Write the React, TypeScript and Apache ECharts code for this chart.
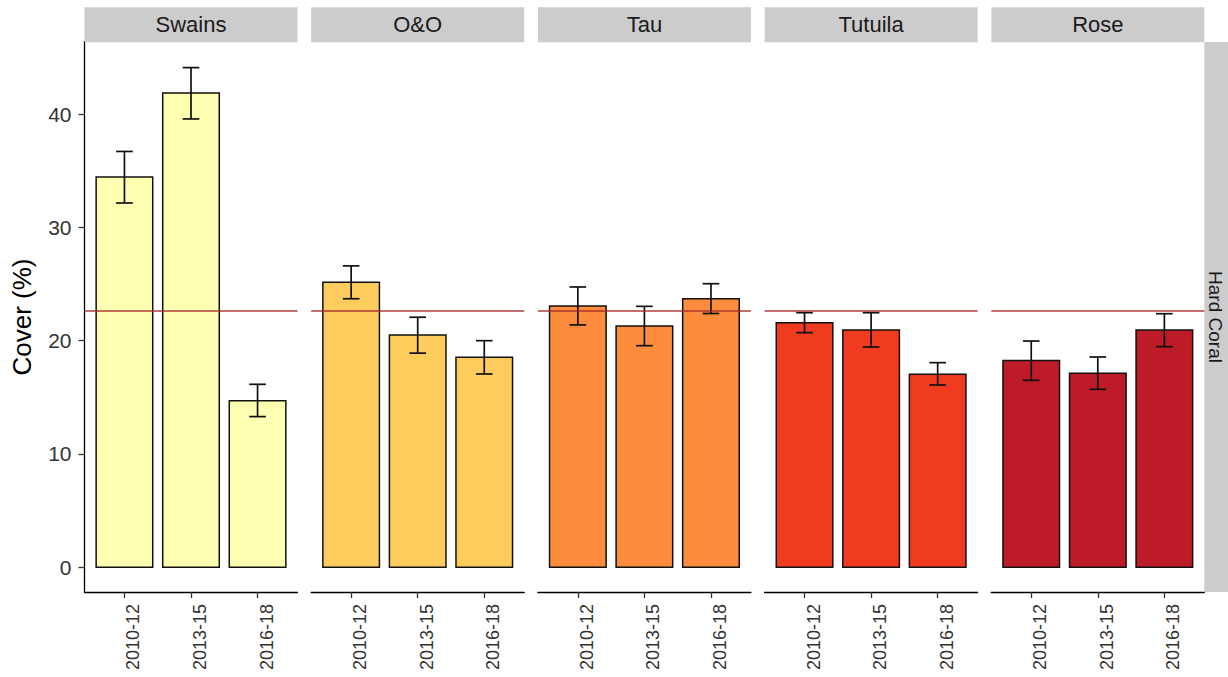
import React, { useEffect, useRef } from "react";
import * as echarts from "echarts";

// ---------- data ----------
const sites = ["Swains", "O&O", "Tau", "Tutuila", "Rose"];
const periods = ["2010-12", "2013-15", "2016-18"];
const siteColors = ["#FFFFB2", "#FECC5C", "#FD8D3C", "#F03B20", "#BD1B27"];

const swainsMean = [34.45, 41.85, 14.7];
const swainsLow = [32.15, 39.57, 13.3];
const swainsHigh = [36.7, 44.1, 16.15];

const oandoMean = [25.15, 20.5, 18.53];
const oandoLow = [23.7, 18.9, 17.06];
const oandoHigh = [26.6, 22.07, 20.0];

const tauMean = [23.06, 21.3, 23.7];
const tauLow = [21.39, 19.56, 22.4];
const tauHigh = [24.74, 23.03, 25.03];

const tutuilaMean = [21.59, 20.94, 17.03];
const tutuilaLow = [20.71, 19.44, 16.09];
const tutuilaHigh = [22.47, 22.47, 18.06];

const roseMean = [18.24, 17.12, 20.94];
const roseLow = [16.5, 15.71, 19.47];
const roseHigh = [19.97, 18.56, 22.38];

const overallMean = 22.62;
const yTicks = [0, 10, 20, 30, 40];
const rowLabel = "Hard Coral";
const yTitle = "Cover (%)";

const means = [swainsMean, oandoMean, tauMean, tutuilaMean, roseMean];
const lows = [swainsLow, oandoLow, tauLow, tutuilaLow, roseLow];
const highs = [swainsHigh, oandoHigh, tauHigh, tutuilaHigh, roseHigh];

// ---------- layout ----------
const FONT = "'Liberation Sans', Arial, Helvetica, sans-serif";
const PANEL_LEFT0 = 84.5;
const PANEL_STEP = 226.7;
const PANEL_W = 213;
const PANEL_TOP = 42;
const PANEL_H = 550;
const STRIP_TOP = 7.3;
const STRIP_H = 35;
const Y_MIN = -2.18;
const Y_MAX = 46.36;
const X_MIN = 0.4;
const X_MAX = 3.6;
const BAR_W = 0.85;
const CAP_W = 0.25;
const STRIP_FILL = "#CCCCCC";

function buildOption() {
  const grid: any[] = [];
  const xAxis: any[] = [];
  const yAxis: any[] = [];
  const series: any[] = [];
  const graphic: any[] = [];

  sites.forEach((site, i) => {
    const left = PANEL_LEFT0 + i * PANEL_STEP;
    grid.push({
      left,
      top: PANEL_TOP,
      width: PANEL_W,
      height: PANEL_H,
      containLabel: false,
      outerBoundsMode: "none",
    });
    xAxis.push({
      type: "value",
      gridIndex: i,
      min: X_MIN,
      max: X_MAX,
      splitLine: { show: false },
      axisLine: { show: true, onZero: false, lineStyle: { color: "#000", width: 1.3 } },
      axisTick: {
        show: true,
        customValues: [1, 2, 3],
        length: 6,
        lineStyle: { color: "#333", width: 1.3 },
      },
      axisLabel: {
        show: true,
        customValues: [1, 2, 3],
        formatter: (v: number) => periods[Math.round(v) - 1] ?? "",
        rotate: 90,
        margin: 12,
        fontSize: 18,
        color: "#333",
        fontFamily: FONT,
        verticalAlign: "top",
      },
    });
    yAxis.push({
      type: "value",
      gridIndex: i,
      min: Y_MIN,
      max: Y_MAX,
      show: i === 0,
      name: i === 0 ? yTitle : "",
      nameLocation: "middle",
      nameGap: 50,
      nameTextStyle: { fontSize: 26, color: "#000", fontFamily: FONT },
      splitLine: { show: false },
      axisLine: { show: true, onZero: false, lineStyle: { color: "#000", width: 1.3 } },
      axisTick: {
        show: true,
        customValues: yTicks,
        length: 6,
        lineStyle: { color: "#333", width: 1.3 },
      },
      axisLabel: {
        show: true,
        customValues: yTicks,
        margin: 13,
        fontSize: 21,
        color: "#333",
        fontFamily: FONT,
      },
    });

    const color = siteColors[i];
    series.push({
      type: "custom",
      name: site + " bars",
      xAxisIndex: i,
      yAxisIndex: i,
      data: periods.map((_, k) => [k + 1, means[i][k]]),
      renderItem: (_p: any, api: any) => {
        const x = api.value(0);
        const v = api.value(1);
        const tl = api.coord([x - BAR_W / 2, v]);
        const br = api.coord([x + BAR_W / 2, 0]);
        return {
          type: "rect",
          shape: { x: tl[0], y: tl[1], width: br[0] - tl[0], height: br[1] - tl[1] },
          style: { fill: color, stroke: "#111", lineWidth: 1.5 },
        };
      },
      z: 2,
    });
    series.push({
      type: "custom",
      name: site + " error",
      xAxisIndex: i,
      yAxisIndex: i,
      data: periods.map((_, k) => [k + 1, lows[i][k], highs[i][k]]),
      renderItem: (_p: any, api: any) => {
        const x = api.value(0);
        const lo = api.coord([x, api.value(1)]);
        const hi = api.coord([x, api.value(2)]);
        const capL = api.coord([x - CAP_W / 2, 0])[0];
        const capR = api.coord([x + CAP_W / 2, 0])[0];
        const st = { stroke: "#111", lineWidth: 1.7 };
        return {
          type: "group",
          children: [
            { type: "line", shape: { x1: lo[0], y1: lo[1], x2: hi[0], y2: hi[1] }, style: st },
            { type: "line", shape: { x1: capL, y1: lo[1], x2: capR, y2: lo[1] }, style: st },
            { type: "line", shape: { x1: capL, y1: hi[1], x2: capR, y2: hi[1] }, style: st },
          ],
        };
      },
      markLine: {
        silent: true,
        symbol: "none",
        label: { show: false },
        lineStyle: { color: "#A52A2A", width: 1.6, type: "solid", opacity: 0.9 },
        data: [{ yAxis: overallMean }],
      },
      z: 3,
    });

    graphic.push({
      type: "rect",
      shape: { x: left, y: STRIP_TOP, width: PANEL_W, height: STRIP_H },
      style: { fill: STRIP_FILL },
      silent: true,
    });
    graphic.push({
      type: "text",
      x: left + PANEL_W / 2,
      y: STRIP_TOP + STRIP_H / 2,
      style: {
        text: site,
        fontSize: 22,
        fontFamily: FONT,
        fill: "#1A1A1A",
        align: "center",
        verticalAlign: "middle",
      },
      silent: true,
    });
  });

  const rightX = PANEL_LEFT0 + 4 * PANEL_STEP + PANEL_W;
  graphic.push({
    type: "rect",
    shape: { x: rightX, y: PANEL_TOP, width: 40, height: PANEL_H },
    style: { fill: STRIP_FILL },
    silent: true,
  });
  graphic.push({
    type: "text",
    x: rightX + 11,
    y: PANEL_TOP + PANEL_H / 2,
    rotation: -Math.PI / 2,
    style: {
      text: rowLabel,
      fontSize: 19,
      fontFamily: FONT,
      fill: "#1A1A1A",
      align: "center",
      verticalAlign: "middle",
    },
    silent: true,
  });

  return {
    animation: false,
    backgroundColor: "#FFFFFF",
    textStyle: { fontFamily: FONT },
    grid,
    xAxis,
    yAxis,
    series,
    graphic,
  };
}

export default function App() {
  const ref = useRef<HTMLDivElement>(null);
  useEffect(() => {
    if (!ref.current) return;
    const chart = echarts.init(ref.current, undefined, { renderer: "svg" });
    chart.setOption(buildOption() as any);
    return () => chart.dispose();
  }, []);
  return (
    <div
      ref={ref}
      style={{ position: "fixed", left: 0, top: 0, width: 1228, height: 677, background: "#fff" }}
    />
  );
}
